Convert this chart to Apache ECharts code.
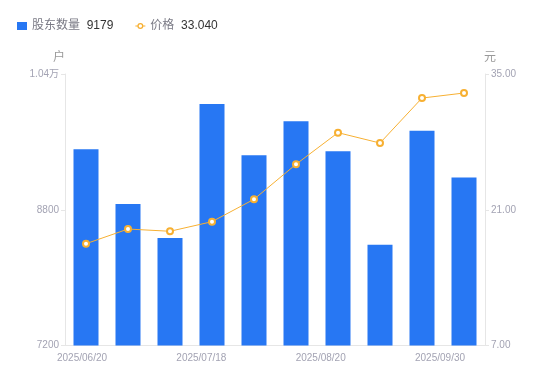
<!DOCTYPE html>
<html><head><meta charset="utf-8">
<script src="https://cdn.jsdelivr.net/npm/echarts@6/dist/echarts.min.js"></script>
<style>html,body{margin:0;padding:0;background:#fff}#c{width:550px;height:381px}</style>
</head><body><div id="c"></div>
<script>
var categories = ['2025/06/20','2025/06/30','2025/07/10','2025/07/18','2025/07/31','2025/08/10','2025/08/20','2025/08/31','2025/09/10','2025/09/30'];
var holders = [9512, 8868, 8467, 10046, 9442, 9842, 9489, 8388, 9732, 9179];
var prices = [17.50, 19.01, 18.78, 19.77, 22.08, 25.69, 28.95, 27.88, 32.52, 33.04];
var dateLabels = ['2025/06/20','2025/07/18','2025/08/20','2025/09/30'];
var leftTicks = [7200, 8800, 10400];
var rightTicks = [7, 21, 35];

var FONT = 'Liberation Sans, "Noto Sans CJK SC", sans-serif';
var LINE_ICON = 'path://M0 3.5H2.4V4.5H0Z M7.6 3.5H10V4.5H7.6Z M5 1A3 3 0 1 1 5 7A3 3 0 1 1 5 1Z M5 2.3A1.7 1.7 0 1 0 5 5.7A1.7 1.7 0 1 0 5 2.3Z';
var chart = echarts.init(document.getElementById('c'), null, {renderer:'canvas'});
var lastVals = {'股东数量': String(holders[holders.length-1]), '价格': prices[prices.length-1].toFixed(3)};
chart.setOption({
  animation:false,
  textStyle:{fontFamily:FONT},
  legend:{
    left:12, top:15, itemGap:22, itemWidth:10, itemHeight:8,
    data:[{name:'股东数量', icon:'rect'}, {name:'价格', icon:LINE_ICON, itemStyle:{color:'#f7b032', borderWidth:0}}],
    formatter:function(n){return '{n|'+n+'}  {v|'+lastVals[n]+'}';},
    textStyle:{rich:{n:{color:'#7a7a85',fontSize:12,fontFamily:FONT},v:{color:'#333',fontSize:12,fontFamily:FONT}}}
  },
  grid:{left:65, right:65, top:74, bottom:35.5},
  xAxis:[{
    type:'category', data:categories, boundaryGap:true,
    axisLine:{lineStyle:{color:'#e6e6e6'}}, axisTick:{show:false}, axisLabel:{show:false}
  },{
    type:'value', position:'bottom', min:-0.1425, max:3.377,
    axisLine:{show:false}, axisTick:{show:false}, splitLine:{show:false},
    axisLabel:{customValues:[0,1,2,3], color:'#a3a3b3', fontSize:10, margin:8,
      formatter:function(v){return dateLabels[Math.round(v)];}}
  }],
  yAxis:[{
    type:'value', min:leftTicks[0], max:leftTicks[2], interval:leftTicks[1]-leftTicks[0],
    name:'户', nameTextStyle:{color:'#999', fontSize:12, padding:[0,0,0,-12]}, nameGap:10,
    axisLine:{show:true, onZero:false, lineStyle:{color:'#e6e6e6'}},
    axisTick:{show:true, length:4, lineStyle:{color:'#e6e6e6'}},
    splitLine:{show:false},
    axisLabel:{color:'#a3a3b3', fontSize:10, margin:6, formatter:function(v){return v>=10000? (v/10000)+'万' : String(v);}}
  },{
    type:'value', min:rightTicks[0], max:rightTicks[2], interval:rightTicks[1]-rightTicks[0],
    name:'元', nameTextStyle:{color:'#999', fontSize:12, padding:[0,-10,0,0]}, nameGap:10,
    axisLine:{show:true, onZero:false, lineStyle:{color:'#e6e6e6'}},
    axisTick:{show:true, length:4, lineStyle:{color:'#e6e6e6'}},
    splitLine:{show:false},
    axisLabel:{color:'#a3a3b3', fontSize:10, margin:6, formatter:function(v){return v.toFixed(2);}}
  }],
  series:[{
    name:'股东数量', type:'bar', data:holders, xAxisIndex:0, yAxisIndex:0, barWidth:25,
    itemStyle:{color:'#2777f3'}
  },{
    name:'价格', type:'line', data:prices, xAxisIndex:0, yAxisIndex:1,
    symbol:'emptyCircle', symbolSize:6, showAllSymbol:true,
    lineStyle:{color:'#f7b032', width:1},
    itemStyle:{color:'#f7b032', borderWidth:2}
  }]
});
</script></body></html>
